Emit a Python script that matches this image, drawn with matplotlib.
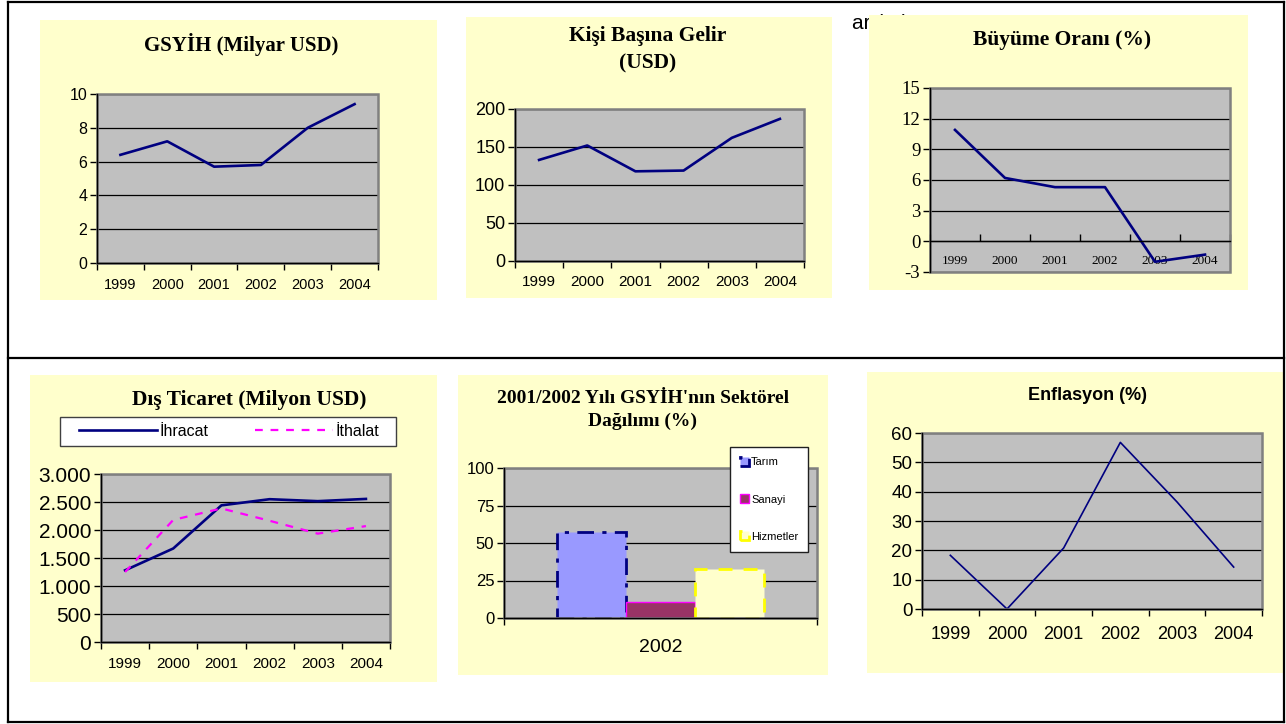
import matplotlib
matplotlib.use('Agg')
import matplotlib.pyplot as plt
from matplotlib.patches import Rectangle, Patch
from matplotlib.lines import Line2D
import numpy as np

# chart data
years = ['1999', '2000', '2001', '2002', '2003', '2004']
gsyih = [6.4, 7.2, 5.7, 5.8, 8.0, 9.4]
kisi_basina = [133, 152, 118, 119, 162, 187]
buyume = [10.9, 6.2, 5.3, 5.3, -2.0, -1.3]
ihracat = [1280, 1670, 2440, 2550, 2515, 2555]
ithalat = [1250, 2180, 2385, 2165, 1935, 2070]
sektor_labels = ['Tarım', 'Sanayi', 'Hizmetler']
sektor_values = [57.2, 10.6, 32.4]
sektor_year = '2002'
enflasyon = [18.3, 0.0, 20.8, 56.8, 36.5, 14.3]

SANS = 'Liberation Sans'
SERIF = 'Liberation Serif'
NAVY = '#000080'

W, H = 1286, 724
fig = plt.figure(figsize=(W / 100, H / 100), dpi=100)


def box(l, t, r, b, face='#FFFFCC', edge='none', z=-2, lw=1.0):
    fig.patches.append(Rectangle((l / W, 1 - b / H), (r - l) / W, (b - t) / H,
                                 transform=fig.transFigure, facecolor=face,
                                 edgecolor=edge, lw=lw, zorder=z))


def frame_line(x0, y0, x1, y1):
    fig.add_artist(Line2D([x0 / W, x1 / W], [1 - y0 / H, 1 - y1 / H],
                          color='black', lw=1.6, solid_capstyle='projecting'))


def make_ax(l, t, r, b):
    return fig.add_axes([l / W, 1 - b / H, (r - l) / W, (b - t) / H])


def style(ax, yticks, ylabels, yfont, ysize):
    ax.set_facecolor('#C0C0C0')
    ax.set_ylim(yticks[0], yticks[-1])
    ax.set_yticks(yticks)
    ax.set_yticklabels(ylabels, family=yfont, fontsize=ysize)
    ax.yaxis.grid(True, color='black', lw=0.9)
    ax.set_axisbelow(True)
    for s in ['top', 'right']:
        ax.spines[s].set_visible(False)
    for s in ['left', 'bottom']:
        ax.spines[s].set_color('black')
        ax.spines[s].set_linewidth(1.0)
        ax.spines[s].set_zorder(3)
    ax.add_patch(Rectangle((0, 0), 1, 1, transform=ax.transAxes, fill=False,
                           edgecolor='#808080', lw=1.8, clip_on=False, zorder=2.5))
    ax.tick_params(axis='y', direction='out', length=5, width=1, pad=2)


def cat_axis(ax, labels, size, pad, font=SANS, direction='out'):
    n = len(labels)
    ax.set_xlim(-0.5, n - 0.5)
    ax.set_xticks(np.arange(-0.5, n, 1))
    ax.set_xticklabels([])
    ax.set_xticks(np.arange(n), minor=True)
    ax.set_xticklabels(labels, minor=True, family=font, fontsize=size)
    ax.tick_params(axis='x', which='major', direction=direction, length=5, width=1)
    ax.tick_params(axis='x', which='minor', length=0, pad=pad)


# outer frame
frame_line(8, 2, 1284, 2)
frame_line(8, 722, 1284, 722)
frame_line(8, 2, 8, 722)
frame_line(1284, 2, 1284, 722)
frame_line(8, 358, 1284, 358)

# yellow chart backgrounds
box(40, 20, 437, 300)
box(466, 17, 832, 298)
box(869, 15, 1248, 290)
box(30, 375, 437, 682)
box(458, 375, 828, 675)
box(867, 372, 1283, 673)

# text hidden behind the growth chart
fig.text(852 / W, 1 - 29 / H, 'ar (%)', family=SANS, fontsize=15, zorder=-3)

x = np.arange(len(years))

# 1: GSYİH
ax1 = make_ax(97, 94, 378, 263)
t = np.arange(0, 11, 2)
style(ax1, t, [str(v) for v in t], SANS, 11.5)
cat_axis(ax1, years, 10.5, 11)
ax1.plot(x, gsyih, color=NAVY, lw=1.9)
fig.text(241 / W, 1 - 45 / H, 'GSYİH (Milyar USD)', family=SERIF, weight='bold',
         fontsize=15, ha='center', va='center')

# 2: Kişi Başına Gelir
ax2 = make_ax(515, 109, 804, 261)
t = np.arange(0, 201, 50)
style(ax2, t, [str(v) for v in t], SANS, 13)
cat_axis(ax2, years, 11, 10)
ax2.plot(x, kisi_basina, color=NAVY, lw=1.9)
fig.text(648 / W, 1 - 50 / H, 'Kişi Başına Gelir\n(USD)', family=SERIF, weight='bold',
         fontsize=15.5, ha='center', va='center', linespacing=1.5)

# 3: Büyüme Oranı
ax3 = make_ax(930, 88, 1230, 272)
ax3.spines['bottom'].set_position(('data', 0))
t = np.arange(-3, 16, 3)
style(ax3, t, [str(v) for v in t], SERIF, 13.5)
cat_axis(ax3, years, 9.5, 10, font=SERIF, direction='in')
ax3.plot(x, buyume, color=NAVY, lw=1.9, zorder=2)
fig.text(1062 / W, 1 - 40 / H, 'Büyüme Oranı (%)', family=SERIF, weight='bold',
         fontsize=15.5, ha='center', va='center')

# 4: Dış Ticaret
ax4 = make_ax(101, 474, 390, 642)
t = np.arange(0, 3001, 500)
style(ax4, t, [f'{v:,.0f}'.replace(',', '.') for v in t], SANS, 15)
cat_axis(ax4, years, 11, 11)
l_ih, = ax4.plot(x, ihracat, color=NAVY, lw=1.9, label='İhracat')
l_it, = ax4.plot(x, ithalat, color='#FF00FF', lw=1.6, ls=(0, (3.5, 3.5)), label='İthalat')
fig.text(249 / W, 1 - 400 / H, 'Dış Ticaret (Milyon USD)', family=SERIF, weight='bold',
         fontsize=15.5, ha='center', va='center')
box(60, 417, 396, 446, face='white', edge='#404040', z=-1)
fig.legend(handles=[l_ih, l_it], ncol=2, loc='center left',
           bbox_to_anchor=(79 / W, 1 - 431.5 / H), frameon=False,
           prop={'family': SANS, 'size': 11.5}, handlelength=4.9, handletextpad=0.15,
           columnspacing=2.9, borderaxespad=0, borderpad=0)

# 5: Sektörel dağılım
ax5 = make_ax(504, 468, 817, 618)
t = np.arange(0, 101, 25)
style(ax5, t, [str(v) for v in t], SANS, 12)
ax5.set_xlim(-0.5, 0.5)
ax5.set_xticks([-0.5, 0.5])
ax5.set_xticklabels([])
ax5.set_xticks([0], minor=True)
ax5.set_xticklabels([sektor_year], minor=True, family=SANS, fontsize=14)
ax5.tick_params(axis='x', which='major', direction='out', length=5, width=1)
ax5.tick_params(axis='x', which='minor', length=0, pad=15)
bw = 0.221
faces = ['#9999FF', '#993366', '#FFFFCC']
edges = [NAVY, '#FF00FF', '#FFFF00']
styles = [(0, (6, 3, 1.5, 3)), 'solid', (0, (5, 4))]
widths = [2.0, 1.0, 2.0]
for i, (lab, v) in enumerate(zip(sektor_labels, sektor_values)):
    ax5.bar((i - 1) * bw, v, width=bw, facecolor=faces[i], edgecolor=edges[i],
            linestyle=styles[i], linewidth=widths[i], zorder=2)
fig.text(643 / W, 1 - 410 / H, "2001/2002 Yılı GSYİH'nın Sektörel\nDağılımı (%)",
         family=SERIF, weight='bold', fontsize=14, ha='center', va='center',
         linespacing=1.4)
handles5 = [Patch(facecolor=faces[i], edgecolor=edges[i], linestyle=styles[i],
                  linewidth=widths[i], label=sektor_labels[i]) for i in range(3)]
leg5 = fig.legend(handles=handles5, loc='upper left',
                  bbox_to_anchor=(730 / W, 1 - 447 / H), prop={'family': SANS, 'size': 8},
                  handlelength=0.8, handleheight=0.9, handletextpad=0.2,
                  labelspacing=2.4, fancybox=False, framealpha=1, edgecolor='#202020',
                  borderaxespad=0, borderpad=0.9)
leg5.get_frame().set_linewidth(1.0)

# 6: Enflasyon
ax6 = make_ax(922, 433, 1262, 609)
t = np.arange(0, 61, 10)
style(ax6, t, [str(v) for v in t], SANS, 13.5)
cat_axis(ax6, years, 13, 12)
ax6.plot(x, enflasyon, color=NAVY, lw=1.2)
fig.text(1087 / W, 1 - 395 / H, 'Enflasyon (%)', family=SANS, weight='bold',
         fontsize=13, ha='center', va='center')

fig.savefig('out.png', dpi=100)
